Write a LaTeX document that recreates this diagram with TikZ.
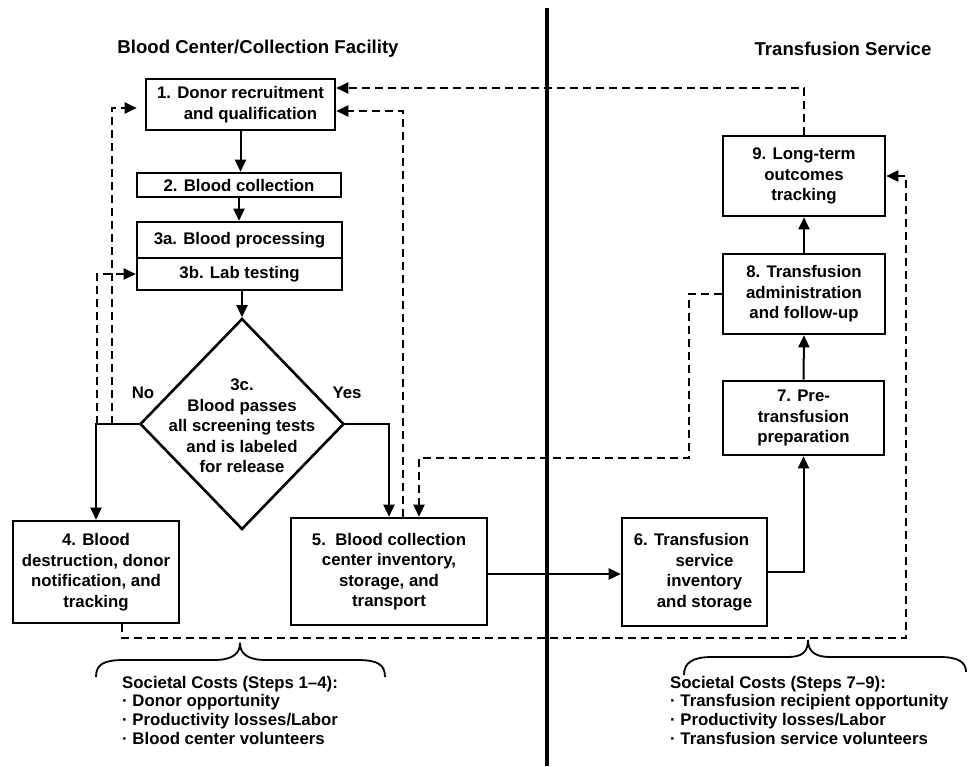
\documentclass[tikz,border=0pt]{standalone}
\usepackage{fontspec}
\setmainfont{Liberation Sans}
\usetikzlibrary{arrows.meta,shapes.geometric}
\begin{document}
\begin{tikzpicture}[x=1pt,y=-1pt,
  every node/.style={font=\fontsize{16.8}{20.5}\selectfont\bfseries},
  box/.style={draw, line width=2.6pt, align=center, inner sep=0pt},
  arr/.style={line width=2pt, -{Triangle[length=12pt,width=11pt]}},
  darr/.style={line width=2pt, dash pattern=on 8pt off 5pt, -{Triangle[length=12pt,width=11pt]}},
  bracestyle/.style={line width=1.8pt},
  title/.style={font=\fontsize{18.6}{22}\selectfont\bfseries},
  cost/.style={align=left, anchor=north west, inner sep=0pt, font=\fontsize{16.8}{18.6}\selectfont\bfseries}
]
\useasboundingbox (0,0) rectangle (968,766);

% divider
\draw[line width=3.2pt] (547,8) -- (547,766);

% titles
\node[title] (t1) at (258,49) {Blood Center/Collection Facility};
\node[title] (t2) at (843,49) {Transfusion Service};

% boxes
\node[box, minimum width=189, minimum height=51] (b1) at (240.5,104.5) {1. Donor recruitment\\\hspace*{20pt}and qualification};
\node[box, minimum width=204, minimum height=24] (b2) at (239,185) {2. Blood collection};
\node[box, minimum width=205, minimum height=36] (b3a) at (239.5,240) {3a. Blood processing};
\node[box, minimum width=205, minimum height=32] (b3b) at (239.5,274) {3b. Lab testing};
\node[draw, diamond, line width=2.6pt, minimum width=204, minimum height=211, inner sep=0pt] (dia) at (242,424) {};
\node[align=center] (dtext) at (242,426) {3c.\\Blood passes\\all screening tests\\and is labeled\\for release};
\node (no) at (143,393) {No};
\node (yes) at (347,393) {Yes};
\node[box, minimum width=166, minimum height=102] (b4) at (96,572) {4. Blood\\destruction, donor\\notification, and\\tracking};
\node[box, minimum width=196, minimum height=107] (b5) at (389,571.5) {5.\ \ Blood collection\\center inventory,\\storage, and\\transport};
\node[box, minimum width=145, minimum height=108] (b6) at (694.5,572) {\hspace*{-6pt}6. Transfusion\\\hspace*{20pt}service\\\hspace*{20pt}inventory\\\hspace*{20pt}and storage};
\node[box, minimum width=161, minimum height=74] (b7) at (803.5,418) {7. Pre-\\transfusion\\preparation};
\node[box, minimum width=162, minimum height=80] (b8) at (804,294) {8. Transfusion\\administration\\and follow-up};
\node[box, minimum width=162, minimum height=80] (b9) at (804,176) {9. Long-term\\outcomes\\tracking};

% solid flow
\draw[arr] (b1.south) -- (b1.south |- b2.north);
\draw[arr] (b2.south) -- (b2.south |- b3a.north);
\draw[arr] (dia.north |- b3b.south) -- (dia.north);
\draw[arr] (dia.west) -| (b4.north);
\draw[arr] (dia.east) -| (b5.north);
\draw[arr] ([yshift=-2.5pt]b5.east) -- ([yshift=-2.5pt]b5.east -| b6.west);
\draw[arr] (b6.east) -| (b7.south);
\draw[arr] (b7.north) -- (b8.south);
\draw[arr] (b8.north) -- (b9.south);

% dashed feedback
\coordinate (y88) at (0,88);
\coordinate (y111) at (0,111);
\coordinate (y108) at (0,108);
\coordinate (k1) at (689,458);
\coordinate (k2) at (419,458);
\coordinate (k3) at (906,638);
\coordinate (k4) at (112,424);
\coordinate (k6) at (97,424);
\draw[darr] (b9.north) |- (b1.east |- y88);
\draw[darr] ([xshift=14pt]b5.north) |- (b1.east |- y111);
\draw[darr] (b8.west) -| (k1) -- (k2) -- (k2 |- b5.north);
\draw[darr] ([xshift=26pt]b4.south) |- (k3) |- (b9.east);
\draw[darr, shorten >=8pt] (k4) |- (b1.west |- y108);
\draw[darr] (k6) |- (b3b.west);

% braces
\draw[bracestyle] (96,677) .. controls (96,664) and (104,660) .. (124,660) -- (214,660)
  .. controls (232,660) and (240,654) .. (240,643)
  .. controls (240,654) and (248,660) .. (266,660) -- (357,660)
  .. controls (377,660) and (385,664) .. (385,677);
\draw[bracestyle] (684,675) .. controls (684,663) and (692,657) .. (712,657) -- (788,657)
  .. controls (802,657) and (808,652) .. (808,640)
  .. controls (808,652) and (816,657) .. (830,657) -- (940,657)
  .. controls (958,657) and (966,662) .. (966,672);

% costs
\node[cost] (costL) at (122,676) {Societal Costs (Steps 1--4):\\· Donor opportunity\\· Productivity losses/Labor\\· Blood center volunteers};
\node[cost] (costR) at (670,676) {Societal Costs (Steps 7--9):\\· Transfusion recipient opportunity\\· Productivity losses/Labor\\· Transfusion service volunteers};
\end{tikzpicture}
\end{document}
